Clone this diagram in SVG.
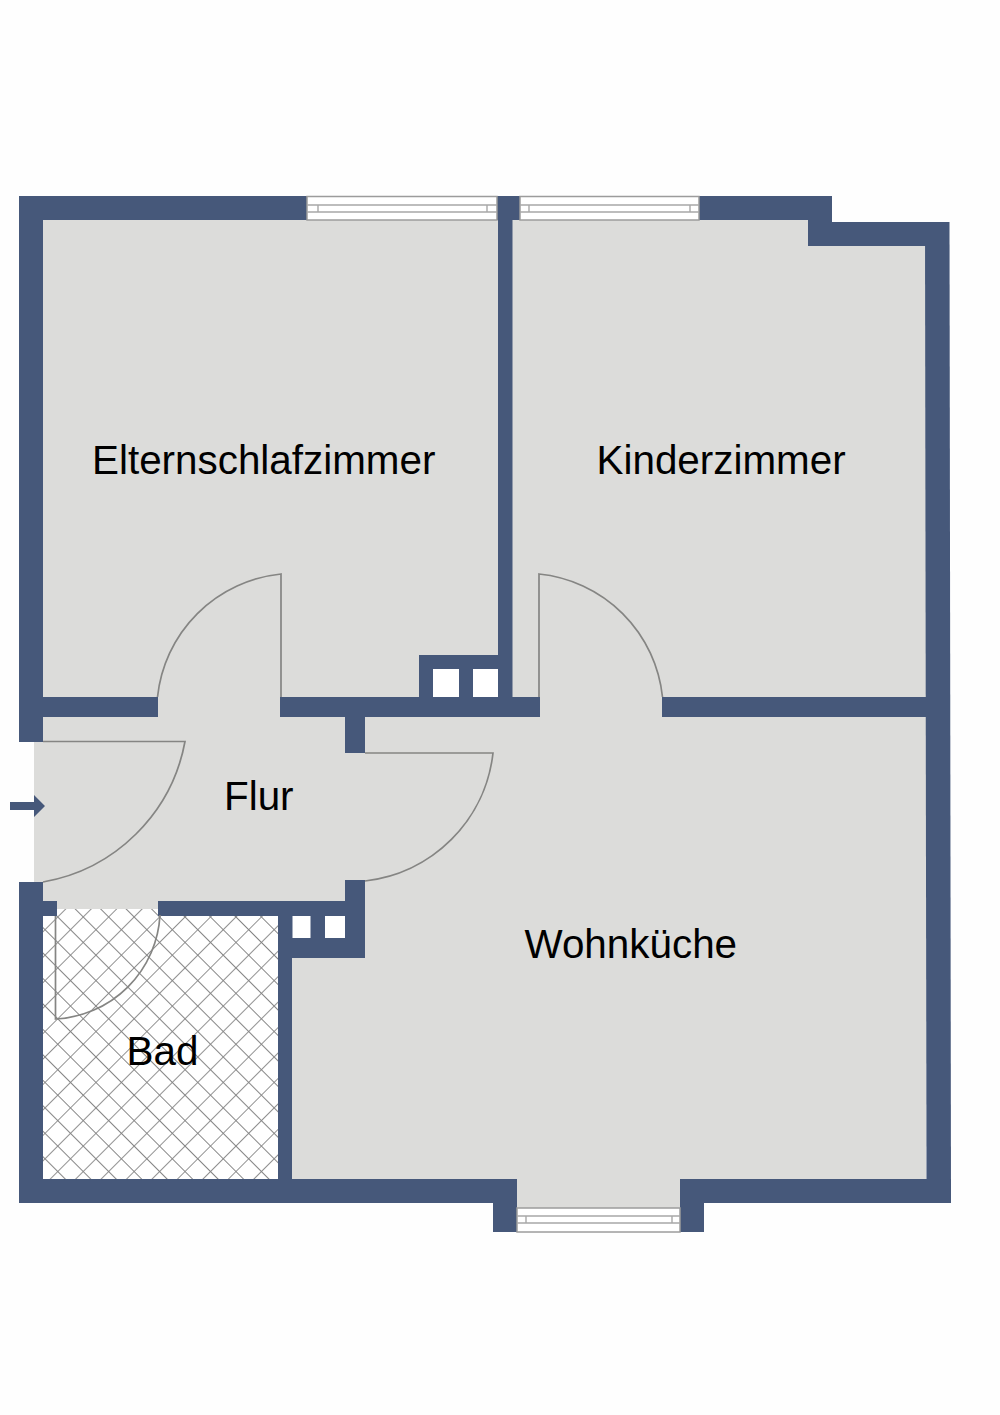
<svg xmlns="http://www.w3.org/2000/svg" width="1000" height="1415" viewBox="0 0 1000 1415">
<style>
.w{fill:#46587a}
.s{fill:#fff}
.d{fill:none;stroke:#858583;stroke-width:1.7}
.win{fill:#fff;stroke:#9c9c9c;stroke-width:1.5}
.wl{fill:none;stroke:#a8a8a8;stroke-width:1.4}
.t{font-family:"Liberation Sans",Arial,sans-serif;font-size:40.4px;fill:#000}
</style>
<defs>
<pattern id="hatch" patternUnits="userSpaceOnUse" width="18" height="18" patternTransform="translate(210.5 1069) rotate(45)">
<path d="M0 0H18M0 0V18" fill="none" stroke="#858585" stroke-width="1.8"/>
</pattern>
</defs>
<rect width="1000" height="1415" fill="#fefefe"/>
<g id="floor">
<polygon fill="#dcdcda" points="43,220 808,220 808,246 926,246 926,1179 680,1179 680,1208 517,1208 517,1179 292,1179 292,909 57,909 57,901 43,901 43,882 34,882 34,741 43,741"/>
<path fill="#fff" d="M43 916H57V909H158V916H278V1179H43Z"/>
<path fill="url(#hatch)" d="M43 916H57V909H158V916H278V1179H43Z"/>
</g>
<g id="walls" class="w">
<rect x="19" y="196" width="288" height="24"/>
<rect x="497" y="196" width="23" height="24"/>
<rect x="699" y="196" width="133" height="24"/>
<rect x="808" y="220" width="24" height="4"/>
<rect x="808" y="222" width="141" height="24"/>
<polygon points="925,222 949.5,222 951,1203 926.5,1203"/>
<rect x="19" y="196" width="24" height="546"/>
<rect x="19" y="882" width="24" height="321"/>
<rect x="19" y="1179" width="498" height="24"/>
<rect x="493" y="1179" width="24" height="53"/>
<rect x="680" y="1179" width="24" height="53"/>
<rect x="680" y="1179" width="271" height="24"/>
<rect x="43" y="697" width="115" height="20"/>
<rect x="280" y="697" width="260" height="20"/>
<rect x="662" y="697" width="264" height="20"/>
<rect x="345" y="697" width="20" height="56"/>
<rect x="345" y="880" width="20" height="78"/>
<rect x="158" y="901" width="187" height="15"/>
<rect x="43" y="901" width="14" height="15"/>
<rect x="278" y="916" width="14" height="263"/>
<rect x="292" y="916" width="73" height="42"/>
<rect x="419" y="655" width="93" height="42"/>
<rect x="498" y="220" width="14.500" height="477"/>
</g>
<g id="shafts" class="s">
<rect x="433" y="669" width="26" height="28"/>
<rect x="473" y="669" width="25" height="28"/>
<rect x="292.500" y="916" width="18" height="22"/>
<rect x="325" y="916" width="20" height="22"/>
</g>
<g id="windows">
<g id="window-1"><rect class="win" x="307" y="196.500" width="190" height="23.500"/><path class="wl" d="M307 205H497M307 212H497M318 205V212M487 205V212"/></g>
<g id="window-2"><rect class="win" x="520" y="196.500" width="179" height="23.500"/><path class="wl" d="M520 205H699M520 212H699M529 205V212M690 205V212"/></g>
<g id="window-3"><rect class="win" x="517" y="1208" width="163" height="24"/><path class="wl" d="M517 1216H680M517 1223H680M526 1216V1223M672 1216V1223"/></g>
</g>
<g id="doors">
<path class="d" d="M281 697V574A138 138 0 0 0 157.500 697"/>
<path class="d" d="M539 697V574A138 138 0 0 1 662.500 697"/>
<path class="d" d="M43 741.500H185A175 175 0 0 1 43 882"/>
<path class="d" d="M365 753H493A145 145 0 0 1 365 881"/>
<path class="d" d="M55.500 916V1019A110 110 0 0 0 160 915"/>
</g>
<polygon id="entry-arrow" class="w" points="10,802 34,802 34,795 45,806 34,817 34,810 10,810"/>
<g id="labels">
<text class="t" x="92" y="473.500">Elternschlafzimmer</text>
<text class="t" x="596.500" y="473.500">Kinderzimmer</text>
<text class="t" x="224" y="810">Flur</text>
<text class="t" x="524.500" y="957.500">Wohnküche</text>
<text class="t" x="126.500" y="1064.500">Bad</text>
</g>
</svg>
